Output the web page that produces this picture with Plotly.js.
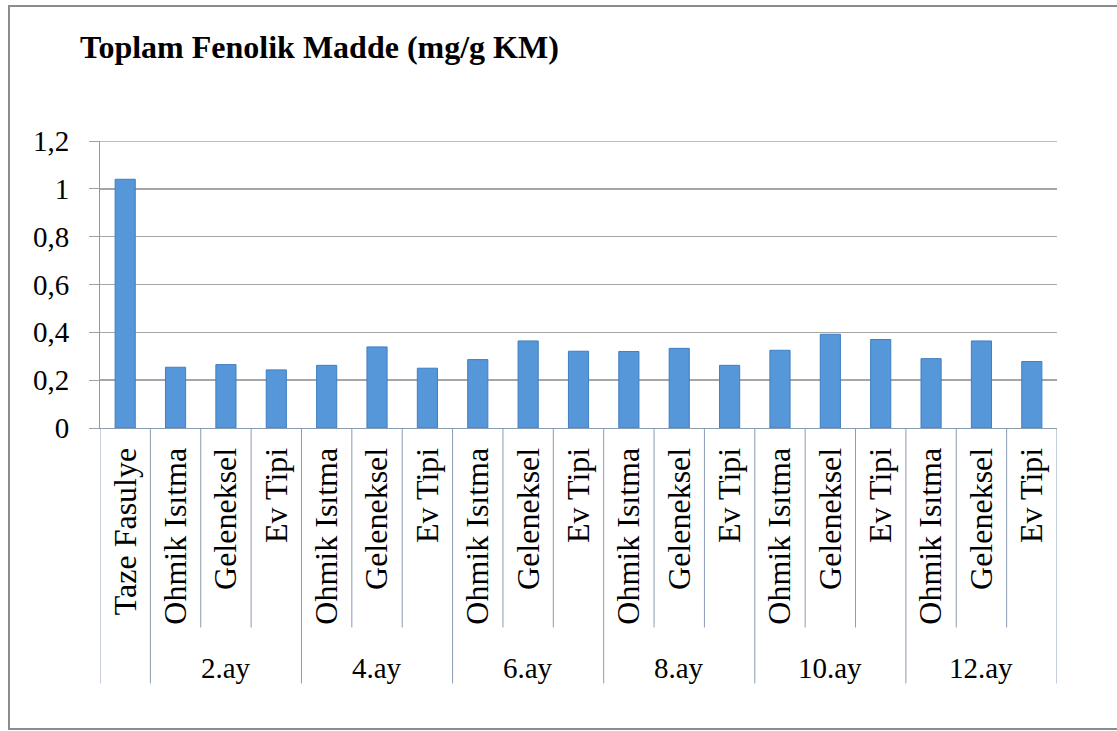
<!DOCTYPE html>
<html>
<head>
<meta charset="utf-8">
<script src="https://cdn.plot.ly/plotly-3.0.1.min.js"></script>
<style>
  html, body { margin: 0; padding: 0; background: #fff; }
  #chart { width: 1117px; height: 731px; position: absolute; left: 0; top: 0; }
  #frame { position: absolute; left: 8px; top: 5px; width: 1115px; height: 721px;
           border-top: 2px solid #8c8c8c; border-left: 2px solid #8c8c8c; border-bottom: 2px solid #8c8c8c;
           pointer-events: none; }
</style>
</head>
<body>
<div id="chart"></div>
<div id="frame"></div>
<script>
const titleText = "Toplam Fenolik Madde (mg/g KM)";
const labels = ["Taze Fasulye",
  "Ohmik Isıtma", "Geleneksel", "Ev Tipi",
  "Ohmik Isıtma", "Geleneksel", "Ev Tipi",
  "Ohmik Isıtma", "Geleneksel", "Ev Tipi",
  "Ohmik Isıtma", "Geleneksel", "Ev Tipi",
  "Ohmik Isıtma", "Geleneksel", "Ev Tipi",
  "Ohmik Isıtma", "Geleneksel", "Ev Tipi"];
const groups = ["",
  "2.ay", "2.ay", "2.ay",
  "4.ay", "4.ay", "4.ay",
  "6.ay", "6.ay", "6.ay",
  "8.ay", "8.ay", "8.ay",
  "10.ay", "10.ay", "10.ay",
  "12.ay", "12.ay", "12.ay"];
const values = [1.04,
  0.254, 0.265, 0.243,
  0.262, 0.339, 0.250,
  0.286, 0.364, 0.321,
  0.320, 0.333, 0.262,
  0.325, 0.392, 0.370,
  0.290, 0.364, 0.278];
const yTicks = [0, 0.2, 0.4, 0.6, 0.8, 1, 1.2];

const serif = '"Liberation Serif", "Times New Roman", serif';
const idx = labels.map((_, i) => i);
const divColor = '#8a9cb4';
const gridColor = '#a6a6a6';

const shapes = [];
const annotations = [];
// top gridline (at the axis maximum)
shapes.push({
  type: 'line', xref: 'paper', yref: 'y', x0: 0, x1: 1,
  y0: yTicks[yTicks.length - 1], y1: yTicks[yTicks.length - 1],
  line: { color: gridColor, width: 1.5 }
});
// inner dividers and group dividers
for (let i = 0; i <= labels.length; i++) {
  const isGroupEdge = (i === 0 || i === labels.length || groups[i] !== groups[i - 1]);
  shapes.push({
    type: 'line', xref: 'x', yref: 'paper',
    x0: i - 0.5, x1: i - 0.5, y0: 0, y1: isGroupEdge ? -0.89 : -0.695,
    line: { color: divColor, width: 1 }
  });
}
// group labels
let start = 0;
for (let i = 1; i <= labels.length; i++) {
  if (i === labels.length || groups[i] !== groups[start]) {
    if (groups[start] !== "") {
      annotations.push({
        xref: 'x', yref: 'paper', x: (start + i - 1) / 2, y: -0.835,
        text: groups[start], showarrow: false, xanchor: 'center', yanchor: 'middle',
        font: { family: serif, size: 29, color: '#000' }
      });
    }
    start = i;
  }
}

const trace = {
  type: 'bar', x: idx, y: values,
  marker: { color: '#5597d8', line: { color: '#3f7fc2', width: 1 } },
  hoverinfo: 'y'
};

const layout = {
  width: 1117, height: 731,
  paper_bgcolor: '#fff', plot_bgcolor: '#fff',
  margin: { l: 100, r: 60, t: 141, b: 303, pad: 0 },
  separators: ',.',
  showlegend: false,
  bargap: 0.6,
  title: { text: '<b>' + titleText + '</b>', x: 80 / 1117, xanchor: 'left', xref: 'container',
           y: 1 - 47 / 731, yanchor: 'middle', yref: 'container',
           font: { family: serif, size: 32, color: '#000' } },
  xaxis: {
    type: 'linear', range: [-0.5, labels.length - 0.5],
    tickvals: idx, ticktext: labels, tickangle: -90,
    ticks: '', showgrid: false, zeroline: false,
    showline: true, linecolor: divColor, linewidth: 1,
    tickfont: { family: serif, size: 32, color: '#000' },
    ticklabelstandoff: 6
  },
  yaxis: {
    range: [0, 1.2], tickvals: yTicks,
    ticks: 'outside', ticklen: 10, tickcolor: '#a0a0a0', tickwidth: 1,
    showgrid: true, gridcolor: gridColor, gridwidth: 1.5,
    zeroline: false, showline: true, linecolor: divColor, linewidth: 1,
    tickfont: { family: serif, size: 29, color: '#000' },
    ticklabelstandoff: 14
  },
  shapes: shapes,
  annotations: annotations
};

Plotly.newPlot('chart', [trace], layout, { displayModeBar: false, staticPlot: true });
</script>
</body>
</html>
